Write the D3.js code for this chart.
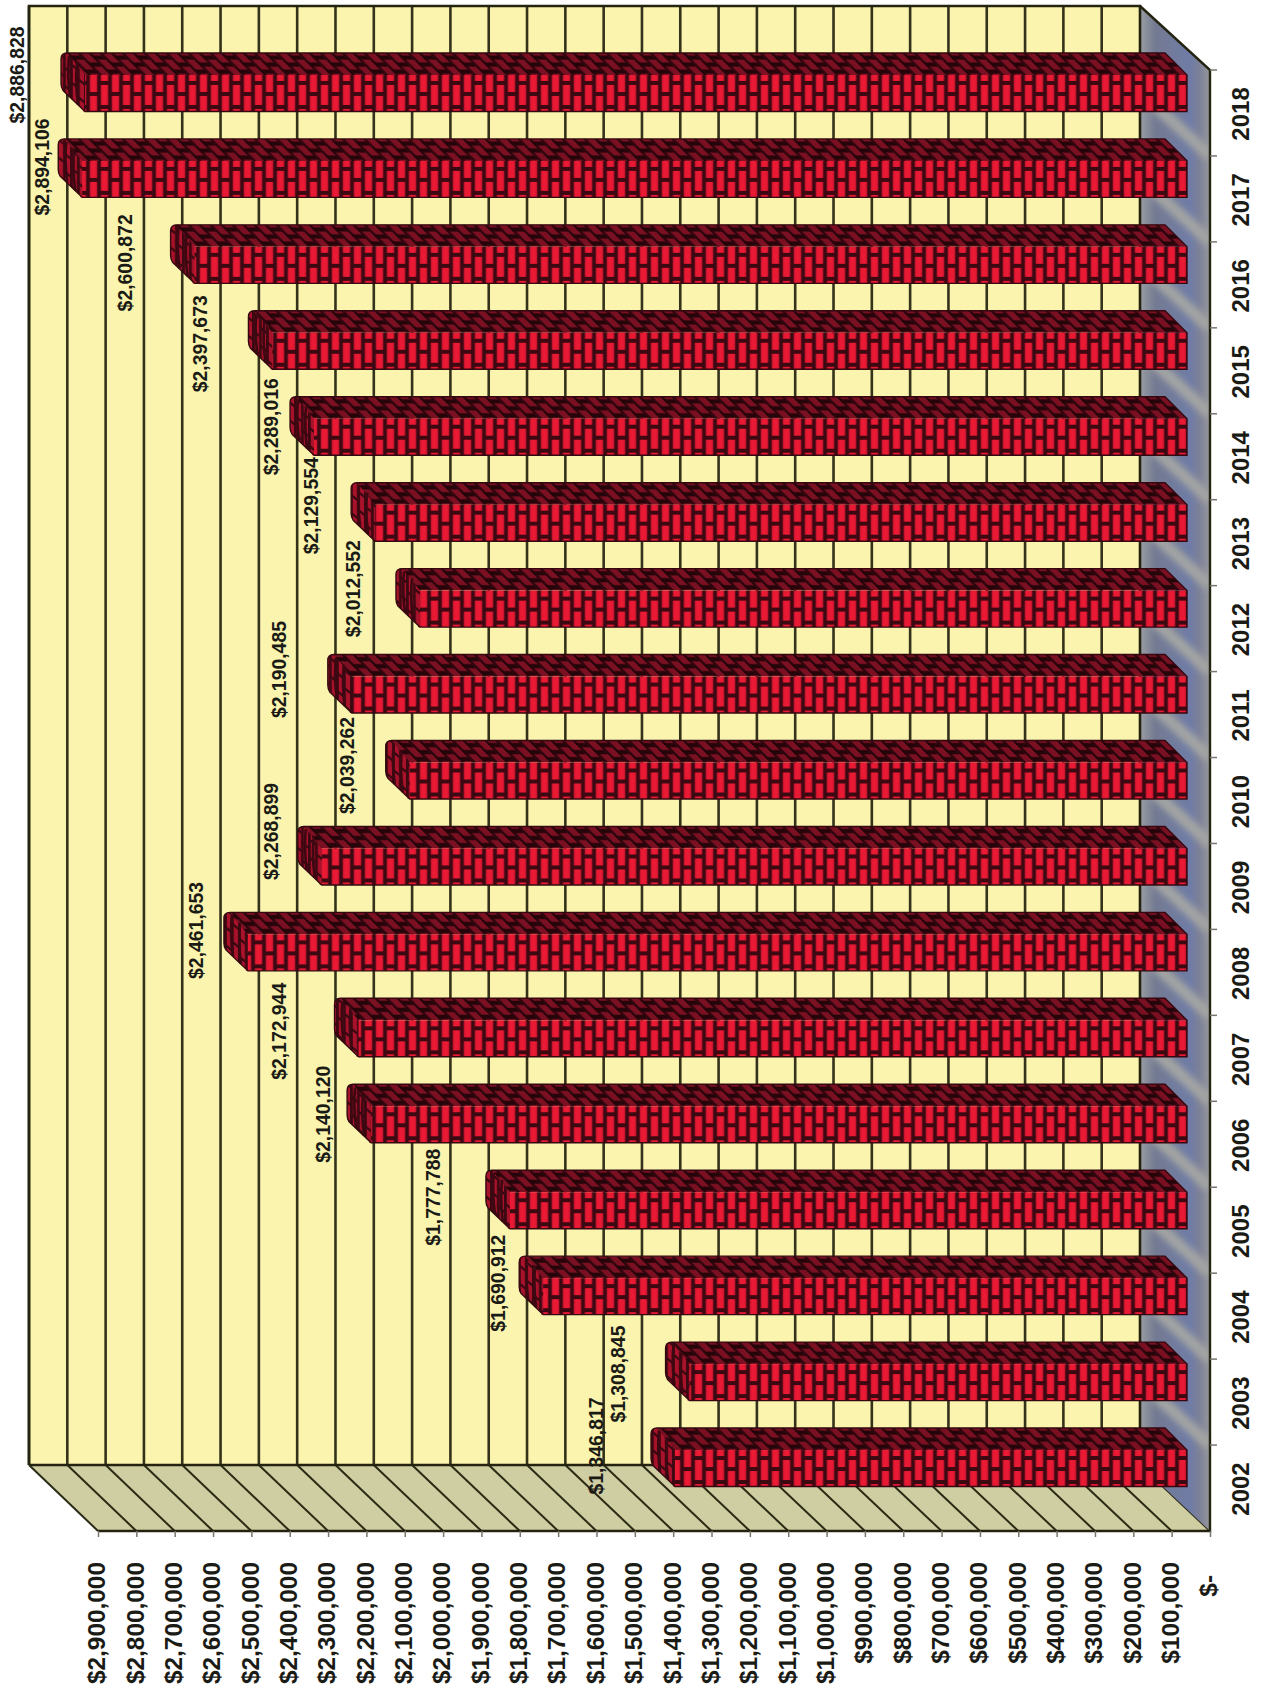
<!DOCTYPE html>
<html>
<head>
<meta charset="utf-8">
<script src="https://d3js.org/d3.v7.min.js"></script>
<style>
  html, body { margin: 0; padding: 0; background: #fff; }
  svg { display: block; }
  text { font-family: "Liberation Sans", Arial, sans-serif; font-weight: bold; fill: #1b1b16; }
  .axis path.domain { stroke: none; }
  .tick line { stroke: #77776c; stroke-width: 1.5; }
</style>
</head>
<body>
<svg id="chart" width="1271" height="1691"></svg>
<script>
// Annual totals, earliest year first.
const years = [2002, 2003, 2004, 2005, 2006, 2007, 2008, 2009, 2010, 2011, 2012, 2013, 2014, 2015, 2016, 2017, 2018];
const totals = [1346817, 1308845, 1690912, 1777788, 2140120, 2172944, 2461653, 2268899, 2039262, 2190485, 2012552, 2129554, 2289016, 2397673, 2600872, 2894106, 2886828];
const axisMax = 2900000;
const axisTicks = d3.range(0, axisMax + 1, 100000);

// Hand-placed data label offsets, measured from the end of each bar.
const labelNudgeX = [-77, -70, -43, -75, -46, -78, -50, -49, -61, -71, -65, -62, -41, -70, -68, -38, -66];
const labelNudgeY = [-42, -28, -33, -33, -30, -27, -42, -55, -35, -45, -40, -37, -30, -27, -22, -32, -38];

const svg = d3.select("#chart");

// The chart is a 3-D column chart turned on its side: value runs right to left.
const wall = { left: 29, right: 1140, top: 6, bottom: 1465 };
const front = { left: 98, right: 1210, top: 70, bottom: 1531 };
const xWall = d3.scaleLinear().domain([0, axisMax]).range([wall.right, wall.left]);
const xFront = d3.scaleLinear().domain([0, axisMax]).range([front.right, front.left]);
const xBar = d3.scaleLinear().domain([0, axisMax]).range([1189, 78]);
const yBand = d3.scaleBand().domain(years).range([front.bottom, front.top]);
const barEnd = 1187;
const barDepth = 22;

const money = d3.format(",");
const ink = "#34321a";
const mortar = "#3c0811";

const defs = svg.append("defs");

// Bricks on the lit face: long bricks laid across the bar, staggered by column.
const brickFront = defs.append("pattern").attr("id", "brickFront")
  .attr("patternUnits", "userSpaceOnUse").attr("width", 22).attr("height", 24);
brickFront.append("rect").attr("width", 22).attr("height", 24).attr("fill", mortar);
brickFront.append("rect").attr("x", 1.7).attr("width", 7.6).attr("height", 24).attr("fill", "#c9152e");
brickFront.append("rect").attr("x", 12.7).attr("width", 7.6).attr("height", 24).attr("fill", "#c9152e");
brickFront.append("rect").attr("x", 3.2).attr("width", 4.6).attr("height", 24).attr("fill", "#ea1a34");
brickFront.append("rect").attr("x", 14.2).attr("width", 4.6).attr("height", 24).attr("fill", "#ea1a34");
brickFront.append("rect").attr("x", 0).attr("y", 15).attr("width", 11).attr("height", 4).attr("fill", mortar);
brickFront.append("rect").attr("x", 11).attr("y", 4).attr("width", 11).attr("height", 4).attr("fill", mortar);

// Same bricks sheared and darkened for the upper face.
const brickTop = defs.append("pattern").attr("id", "brickTop")
  .attr("patternUnits", "userSpaceOnUse").attr("width", 22).attr("height", 14)
  .attr("patternTransform", "skewX(45)");
brickTop.append("rect").attr("width", 22).attr("height", 14).attr("fill", "#7a1022");
brickTop.append("rect").attr("x", 0).attr("width", 3.4).attr("height", 14).attr("fill", "#2f060d");
brickTop.append("rect").attr("x", 11).attr("width", 3.4).attr("height", 14).attr("fill", "#2f060d");
brickTop.append("rect").attr("x", 0).attr("y", 2.5).attr("width", 11).attr("height", 4.2).attr("fill", "#26050a");
brickTop.append("rect").attr("x", 11).attr("y", 9.5).attr("width", 11).attr("height", 4.2).attr("fill", "#26050a");

// Tighter bricks for the rounded bar end.
const brickCap = defs.append("pattern").attr("id", "brickCap")
  .attr("patternUnits", "userSpaceOnUse").attr("width", 14).attr("height", 18)
  .attr("patternTransform", "skewY(40)");
brickCap.append("rect").attr("width", 14).attr("height", 18).attr("fill", "#a8122a");
brickCap.append("rect").attr("x", 0).attr("width", 2.8).attr("height", 18).attr("fill", mortar);
brickCap.append("rect").attr("x", 7).attr("width", 2.8).attr("height", 18).attr("fill", mortar);
brickCap.append("rect").attr("x", 0).attr("y", 4).attr("width", 7).attr("height", 3).attr("fill", mortar);
brickCap.append("rect").attr("x", 7).attr("y", 13).attr("width", 7).attr("height", 3).attr("fill", mortar);

// Floor shading and its soft ridges.
const floorFill = defs.append("linearGradient").attr("id", "floorFill")
  .attr("x1", 0).attr("x2", 1).attr("y1", 0).attr("y2", 0);
floorFill.append("stop").attr("offset", "0").attr("stop-color", "#9a9ea3");
floorFill.append("stop").attr("offset", "0.22").attr("stop-color", "#737a92");
floorFill.append("stop").attr("offset", "0.72").attr("stop-color", "#6f7ca6");
floorFill.append("stop").attr("offset", "0.85").attr("stop-color", "#7d8198");
floorFill.append("stop").attr("offset", "1").attr("stop-color", "#96979c");
defs.append("filter").attr("id", "soft").append("feGaussianBlur").attr("stdDeviation", 3.4);
const floorClip = defs.append("clipPath").attr("id", "floorClip");
const floorPoints = [[wall.right, wall.top], [front.right, front.top], [front.right, front.bottom], [wall.right, wall.bottom]];
floorClip.append("polygon").attr("points", floorPoints.join(" "));

// Back wall.
svg.append("rect")
  .attr("x", wall.left).attr("y", wall.top)
  .attr("width", wall.right - wall.left).attr("height", wall.bottom - wall.top)
  .attr("fill", "#faf4ae");

svg.append("g").selectAll("line").data(axisTicks.slice(1)).join("line")
  .attr("x1", d => xWall(d)).attr("x2", d => xWall(d))
  .attr("y1", wall.top).attr("y2", wall.bottom)
  .attr("stroke", ink).attr("stroke-width", 2.6);

// Lower side panel with the receding gridlines.
svg.append("polygon")
  .attr("points", [[wall.left, wall.bottom], [wall.right, wall.bottom], [front.right, front.bottom], [front.left, front.bottom]].join(" "))
  .attr("fill", "#cfcda2");

svg.append("g").selectAll("line").data(axisTicks).join("line")
  .attr("x1", d => xWall(d)).attr("x2", d => xFront(d))
  .attr("y1", wall.bottom).attr("y2", front.bottom)
  .attr("stroke", "#2b2a14").attr("stroke-width", 2);

// Floor panel on the right, one ridge per year boundary.
svg.append("polygon").attr("points", floorPoints.join(" ")).attr("fill", "url(#floorFill)");
svg.append("g").attr("clip-path", "url(#floorClip)")
  .append("g").attr("filter", "url(#soft)")
  .selectAll("line").data(years.slice(1)).join("line")
  .attr("x1", wall.right).attr("x2", front.right)
  .attr("y1", d => yBand(d) + yBand.step() - (front.top - wall.top))
  .attr("y2", d => yBand(d) + yBand.step())
  .attr("stroke", "#a3a4a3").attr("stroke-width", 12);

// Frame lines of the box.
const frame = svg.append("g").attr("fill", "none").attr("stroke", "#24230f");
frame.append("path").attr("stroke-width", 2.6)
  .attr("d", d3.line()([[wall.left, wall.bottom], [wall.left, wall.top], [wall.right, wall.top], [wall.right, wall.bottom], [wall.left, wall.bottom]]));
frame.append("path").attr("stroke-width", 2.4)
  .attr("d", d3.line()([[wall.right, wall.top], [front.right, front.top], [front.right, front.bottom], [front.left, front.bottom]]));

// Bars.
const bars = svg.append("g").selectAll("g").data(years).join("g")
  .attr("transform", d => `translate(0,${yBand(d) + yBand.bandwidth() / 2 - 60})`);

const barHeight = 58.5;

bars.each(function (year, i) {
  const g = d3.select(this);
  const tip = xBar(totals[i]);
  const back = tip - barDepth;
  const faceTop = barDepth;

  const silhouette = `M${back + 6},0 L${barEnd - barDepth},0 L${barEnd},${faceTop} L${barEnd},${barHeight}
    L${tip + 2},${barHeight} L${back + 2},${barHeight - 21} Q${back},${barHeight - 24} ${back},${barHeight - 28}
    L${back},6 Q${back},0 ${back + 6},0 Z`;

  g.append("path")
    .attr("d", `M${back + 3},0 L${barEnd - barDepth},0 L${barEnd},${faceTop} L${tip},${faceTop} Z`)
    .attr("fill", "url(#brickTop)");

  g.append("rect")
    .attr("x", tip).attr("y", faceTop)
    .attr("width", barEnd - tip).attr("height", barHeight - faceTop)
    .attr("fill", "url(#brickFront)");

  g.append("path")
    .attr("d", `M${back},6 Q${back},0 ${back + 6},0 L${tip + 2},${faceTop} L${tip + 2},${barHeight} L${back + 2},${barHeight - 21} Q${back},${barHeight - 24} ${back},${barHeight - 28} Z`)
    .attr("fill", "url(#brickCap)");

  // Curved courses wrapping round the bar end.
  g.append("path")
    .attr("d", `M${back + 8},3 Q${back + 6},${faceTop} ${back + 9},${barHeight - 15}`)
    .attr("fill", "none").attr("stroke", mortar).attr("stroke-width", 2.6);
  g.append("path")
    .attr("d", `M${back + 16},10 Q${back + 14},${faceTop + 8} ${back + 17},${barHeight - 7}`)
    .attr("fill", "none").attr("stroke", mortar).attr("stroke-width", 2.6);

  g.append("path").attr("d", silhouette)
    .attr("fill", "none").attr("stroke", "#330810").attr("stroke-width", 1.4);
});

// Value axis along the front edge, labels reading upward.
const valueAxis = d3.axisBottom(xFront)
  .tickValues(axisTicks)
  .tickSize(6)
  .tickFormat(d => d === 0 ? "$-" : "$" + money(d));

const valueG = svg.append("g").attr("class", "axis")
  .attr("transform", `translate(0,${front.bottom})`)
  .call(valueAxis);

valueG.selectAll("text")
  .attr("transform", "rotate(-90)")
  .attr("text-anchor", "end")
  .attr("x", d => d === 0 ? -44 : -31)
  .attr("y", 0)
  .attr("dy", "0.28em")
  .style("font-size", "24.4px")
  .style("font-family", '"Liberation Sans", Arial, sans-serif')
  .style("font-weight", "bold");

// Year axis at the right: ticks on band edges, labels at band centres.
const yearAxis = d3.axisRight(yBand).tickSize(0).tickPadding(0);
const yearG = svg.append("g").attr("class", "axis")
  .attr("transform", `translate(${front.right},0)`)
  .call(yearAxis);

yearG.selectAll("text")
  .attr("transform", "rotate(-90)")
  .attr("text-anchor", "middle")
  .attr("x", -1)
  .attr("y", 32)
  .attr("dy", "0.28em")
  .style("font-size", "24px")
  .style("font-family", '"Liberation Sans", Arial, sans-serif')
  .style("font-weight", "bold");

svg.append("g").selectAll("line").data(years).join("line")
  .attr("x1", front.right).attr("x2", front.right + 7)
  .attr("y1", d => yBand(d)).attr("y2", d => yBand(d))
  .attr("stroke", "#77776c").attr("stroke-width", 1.5);

// Data labels, hand-placed in the empty space beside the bar ends.
svg.append("g").selectAll("text").data(years).join("text")
  .attr("transform", (d, i) => {
    const px = xBar(totals[i]) + labelNudgeX[i];
    const py = yBand(d) + yBand.bandwidth() / 2 + labelNudgeY[i];
    return `translate(${px},${py}) rotate(-90)`;
  })
  .attr("text-anchor", "middle")
  .attr("dy", "0.36em")
  .style("font-size", "19.4px")
  .text((d, i) => "$" + money(totals[i]));
</script>
</body>
</html>
